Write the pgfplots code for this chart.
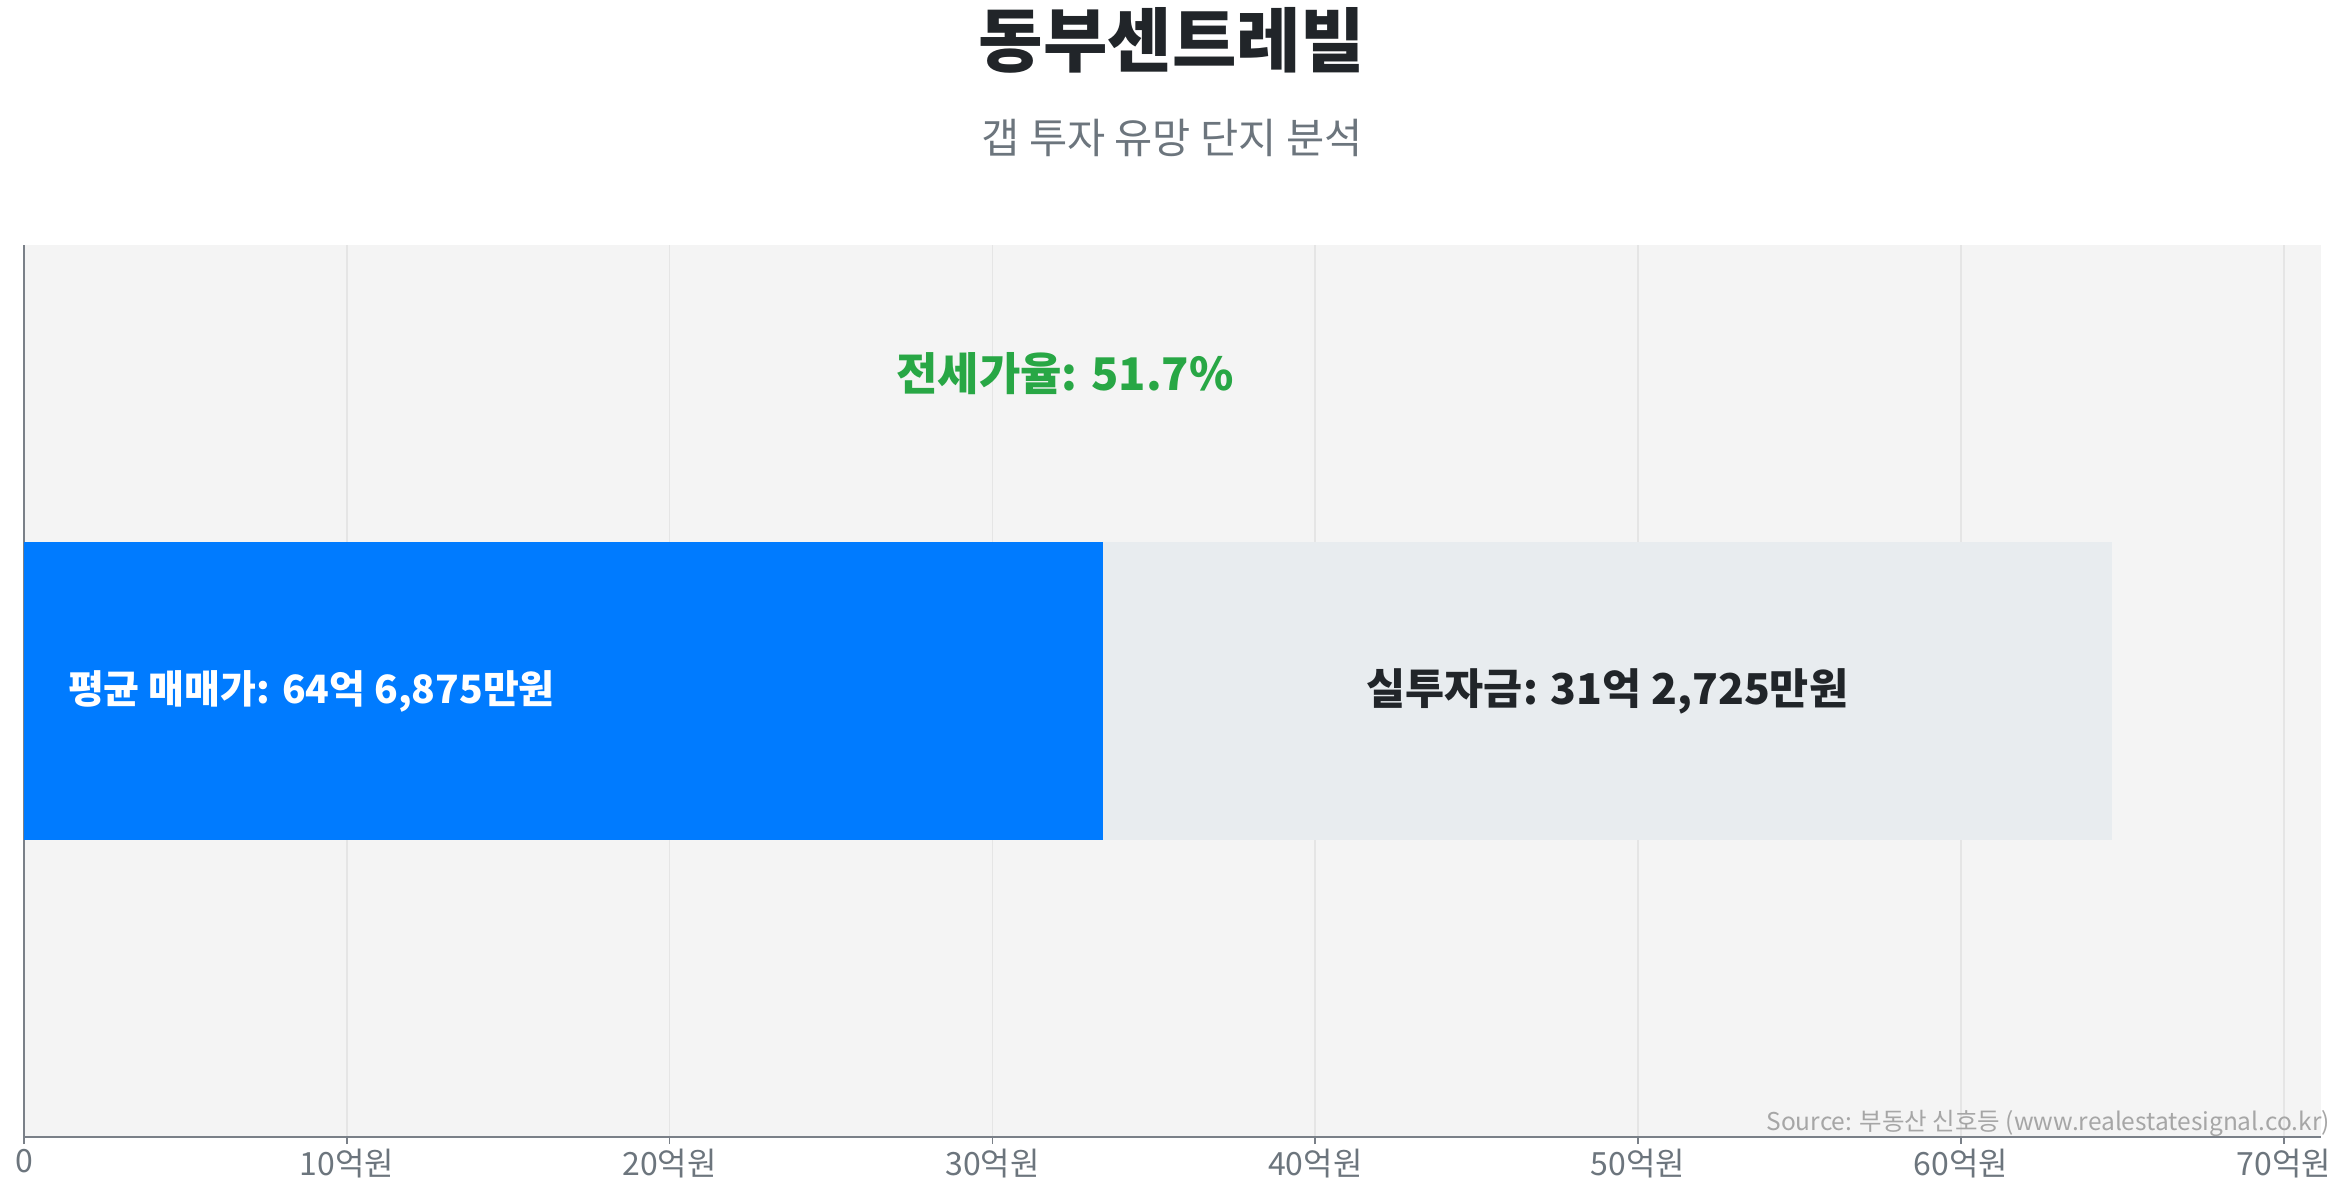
\documentclass[border=0pt]{standalone}
\usepackage{fontspec}
\setmainfont{Noto Sans CJK KR}
\usepackage{pgfplots}
\pgfplotsset{compat=1.18}

\definecolor{barblue}{HTML}{007BFF}
\definecolor{bargray}{HTML}{E8ECEF}
\definecolor{plotbg}{HTML}{F4F4F4}
\definecolor{gridgray}{HTML}{E5E5E5}
\definecolor{ratiogreen}{HTML}{28A745}
\definecolor{titledark}{HTML}{212529}
\definecolor{subgray}{HTML}{6C757D}
\definecolor{axisgray}{HTML}{7A8088}
\definecolor{sourcegray}{HTML}{A6A6A6}

\begin{document}
\begin{tikzpicture}
% one unit = one pixel of the 2350x1200 picture
\path[use as bounding box] (-24pt,-63pt) rectangle (2326pt,1137pt);

\begin{axis}[
  at={(0pt,0pt)}, anchor=south west,
  scale only axis,
  width=2297pt, height=892pt,
  xmin=0, xmax=71.15625,
  ymin=-1.5, ymax=1.5,
  xbar stacked,
  bar width=298pt,
  axis background/.style={fill=plotbg},
  axis x line*=bottom,
  axis y line*=left,
  x axis line style={draw=axisgray, line width=2.2pt},
  y axis line style={draw=axisgray, line width=1.6pt},
  ytick=\empty,
  xtick={0,10,...,70},
  xticklabels={0,10억원,20억원,30억원,40억원,50억원,60억원,70억원},
  xmajorgrids,
  grid style={draw=gridgray, line width=1.6pt},
  tick align=outside,
  major tick length=7pt,
  x tick style={draw=axisgray, line width=1.6pt},
  xticklabel style={font=\fontsize{32}{38}\selectfont, text=subgray, inner sep=0pt, yshift=-5pt},
]
\addplot[fill=barblue, draw=none] coordinates {(33.415,0)};
\addplot[fill=bargray, draw=none] coordinates {(31.2725,0)};

\coordinate (ratio) at (axis cs:32.34,1.068);
\coordinate (saleslbl) at (axis cs:1.36,0);
\coordinate (gaplbl) at (axis cs:49.05,0);
\end{axis}

\node[font=\bfseries\fontsize{45}{54}\selectfont, text=ratiogreen, inner sep=0pt]
  at ([xshift=-3pt]ratio) {전세가율: 51.7\%};
\node[font=\bfseries\fontsize{39}{47}\selectfont, text=white, inner sep=0pt, anchor=west]
  at (saleslbl) {평균 매매가: 64억 6,875만원};
\node[font=\bfseries\fontsize{42.5}{51}\selectfont, text=titledark, inner sep=0pt]
  at (gaplbl) {실투자금: 31억 2,725만원};

\node[font=\bfseries\fontsize{70}{84}\selectfont, text=titledark, inner sep=0pt]
  at (1148pt,1097pt) {동부센트레빌};
\node[font=\fontsize{41.5}{50}\selectfont, text=subgray, inner sep=0pt]
  at (1148pt,999pt) {갭 투자 유망 단지 분석};
\node[font=\fontsize{24.5}{29}\selectfont, text=sourcegray, inner sep=0pt, anchor=east]
  at (2306pt,13.5pt) {Source: 부동산 신호등 (www.realestatesignal.co.kr)};
\end{tikzpicture}
\end{document}
